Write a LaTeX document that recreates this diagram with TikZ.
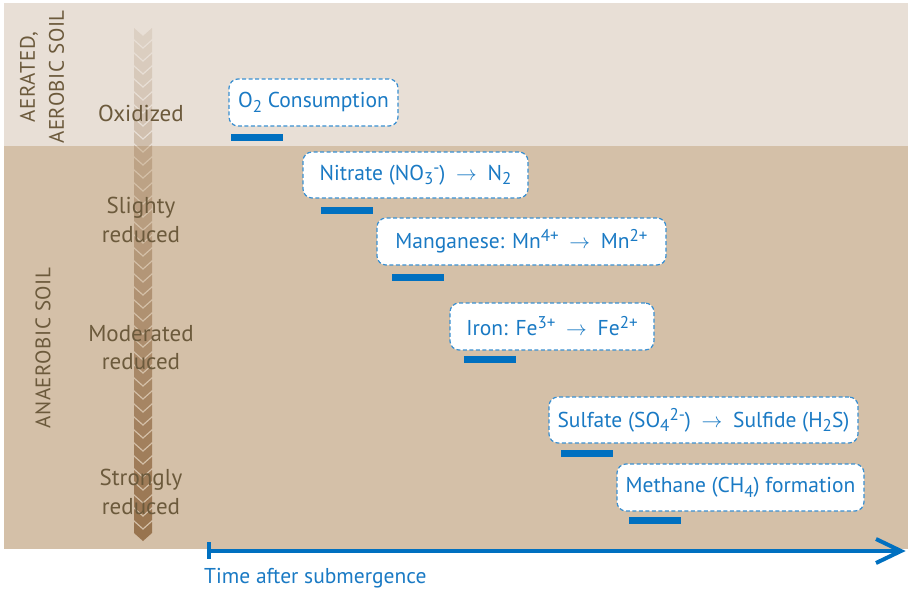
\documentclass[tikz,border=0pt]{standalone}
\usepackage{fontspec}
\setmainfont{PT Sans}
\newfontfamily\spacedfont[LetterSpace=2.5]{PT Sans}
\newcommand\chsub[1]{\raisebox{-0.22em}{\fontsize{17}{17}\selectfont #1}}
\newcommand\chsup[1]{\raisebox{0.33em}{\fontsize{17}{17}\selectfont #1}}
\newcommand\rarr{\hspace{0.5em}$\rightarrow$\hspace{0.5em}}
\definecolor{lightsoil}{RGB}{232,223,214}
\definecolor{darksoil}{RGB}{212,192,168}
\definecolor{soiltext}{RGB}{108,90,60}
\definecolor{chev}{RGB}{140,100,60}
\definecolor{bluebar}{RGB}{0,112,192}
\definecolor{bluetext}{RGB}{26,122,196}
\definecolor{blueline}{RGB}{58,143,208}
\tikzset{
  soillabel/.style={text=soiltext, font=\fontsize{23}{28.5}\selectfont, align=center, inner sep=0pt},
  zonelabel/.style={text=soiltext, font=\spacedfont\fontsize{21}{29}\selectfont, align=center, inner sep=0pt, rotate=90},
  procbox/.style={draw=blueline, dash pattern=on 4pt off 2.5pt, line width=1.2pt, fill=white,
    rounded corners=9pt, text=bluetext, font=\fontsize{21.5}{23}\selectfont, inner sep=0pt},
  bar/.style={fill=bluebar, inner sep=0pt, minimum width=52pt, minimum height=7pt},
  axisline/.style={draw=bluebar, line width=4pt},
}
\begin{document}
\begin{tikzpicture}[x=1pt,y=-1pt]
\useasboundingbox (0,0) rectangle (908,594);
% background bands
\fill[lightsoil] (4,3) rectangle (908,146);
\fill[darksoil] (4,146) rectangle (908,549);
% chevron column
\foreach \i in {0,...,38}{
  \pgfmathsetmacro{\yy}{28+13*\i}
  \pgfmathsetmacro{\op}{0.12+0.7*\i/38}
  \fill[chev, fill opacity=\op] (134,\yy) -- (143,\yy+8) -- (152,\yy) -- (152,\yy+11) -- (143,\yy+19) -- (134,\yy+11) -- cycle;
}
% zone labels
\node[zonelabel] (aer) at (42,77) {AERATED,\\AEROBIC SOIL};
\node[zonelabel] (ana) at (43,348) {ANAEROBIC SOIL};
% redox labels
\node[soillabel] (ox) at (141,113) {Oxidized};
\node[soillabel] (sl) at (141,220) {Slighty\\reduced};
\node[soillabel] (mo) at (141,347.5) {Moderated\\reduced};
\node[soillabel] (st) at (141,492) {Strongly\\reduced};
% process boxes
\node[procbox, minimum width=169pt, minimum height=47pt] (o2) at (313.5,102.5) {O\chsub{2} Consumption};
\node[procbox, minimum width=225pt, minimum height=46pt] (no3) at (415.5,175) {Nitrate (NO\chsub{3}\chsup{-})\rarr N\chsub{2}};
\node[procbox, minimum width=289pt, minimum height=47pt] (mn) at (521.5,241.5) {Manganese: Mn\chsup{4+}\rarr Mn\chsup{2+}};
\node[procbox, minimum width=204pt, minimum height=47pt] (fe) at (552,326.5) {Iron: Fe\chsup{3+}\rarr Fe\chsup{2+}};
\node[procbox, minimum width=309pt, minimum height=46pt] (so4) at (703.5,420) {Sulfate (SO\chsub{4}\chsup{2-})\rarr Sulfide (H\chsub{2}S)};
\node[procbox, minimum width=247pt, minimum height=47pt] (ch4) at (740.5,487.5) {Methane (CH\chsub{4}) formation};
% bars
\node[bar] (b1) at (257,137) {};
\node[bar] (b2) at (347,210.5) {};
\node[bar] (b3) at (417.5,277.5) {};
\node[bar] (b4) at (490,359.5) {};
\node[bar] (b5) at (587,453.5) {};
\node[bar] (b6) at (654.5,520.5) {};
% time axis
\coordinate (t0) at (209,551);
\coordinate (t1) at (901,551);
\coordinate (ha) at (876,539);
\coordinate (hb) at (876,563);
\coordinate (k1) at (209,542);
\coordinate (k2) at (209,559);
\draw[axisline] (t0) -- (t1);
\draw[axisline, line join=miter] (ha) -- (t1) -- (hb);
\draw[axisline] (k1) -- (k2);
\node[anchor=west, text=bluetext, font=\fontsize{21.5}{23}\selectfont, inner sep=0pt] (time) at (204,578) {Time after submergence};
\end{tikzpicture}
\end{document}
